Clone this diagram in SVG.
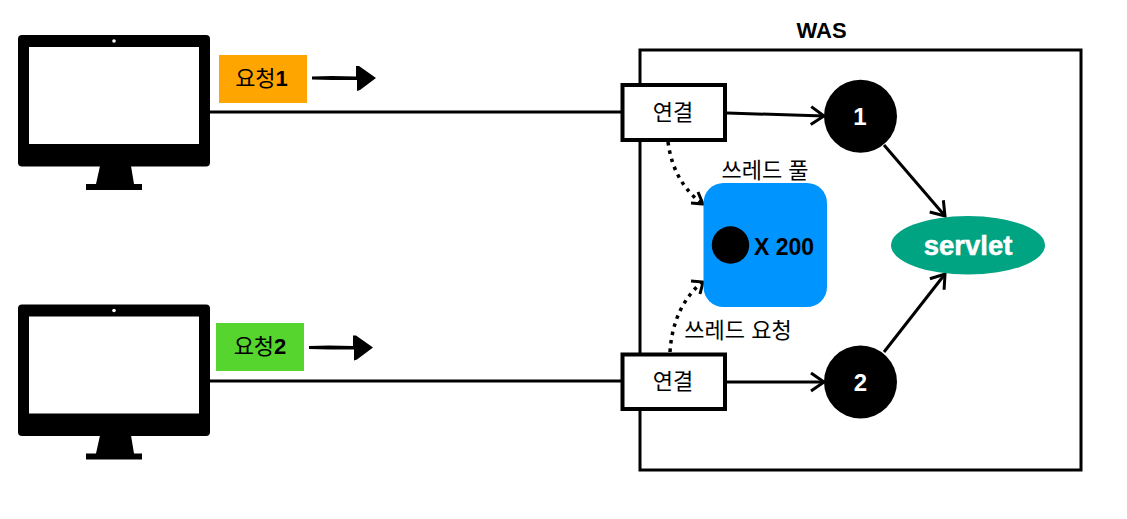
<svg xmlns="http://www.w3.org/2000/svg" width="1127" height="519" viewBox="0 0 1127 519">
<style>
text{font-family:"Liberation Sans","Noto Sans CJK KR",sans-serif;fill:#000}
.b{font-weight:700}
.m{text-anchor:middle}
.w{fill:#fff}
.ln{fill:none;stroke:#000;stroke-width:3}
.dot{fill:none;stroke:#000;stroke-width:3.5;stroke-dasharray:3.5 5}
.box{fill:#fff;stroke:#000;stroke-width:4}
</style>
<defs>
<marker id="a" markerUnits="userSpaceOnUse" markerWidth="20" markerHeight="24" refX="14" refY="10" orient="auto" overflow="visible"><path d="M1 1 14 10 1 19" fill="none" stroke="#000" stroke-width="3"/></marker>
<g id="mon">
<rect x="18" y="35" width="192" height="131.500" rx="4" fill="#000"/>
<rect x="29" y="47" width="170" height="97" fill="#fff"/>
<circle cx="114" cy="41" r="1.800" fill="#fff"/>
<path d="M100 166 H131 L134 184 H142 V190 H86 V184 H96Z" fill="#000"/>
</g>
<path id="hand" d="M0 -1.500 L20 -2 44 -1.500 V-12 L47 -12 64 0 48 12 L45 13 V2 L20 2 0 1.500Z" fill="#000"/>
</defs>
<g id="was"><rect x="640" y="50" width="441" height="420" fill="none" stroke="#000" stroke-width="3"/><text class="b m" x="821.500" y="38" font-size="22">WAS</text></g>
<g id="connectors">
<path class="ln" d="M210 112H622"/>
<path class="ln" d="M210 381H622"/>
<path class="ln" marker-end="url(#a)" d="M727 113 824 116"/>
<path class="ln" marker-end="url(#a)" d="M727 382H824"/>
<path class="ln" marker-end="url(#a)" d="M884 145 945 216"/>
<path class="ln" marker-end="url(#a)" d="M884 352 945 274"/>
<path class="dot" d="M668 142C672 172 685 190 702 204"/>
<path d="M691 203 703 204 698 192" fill="none" stroke="#000" stroke-width="3"/>
<path class="dot" d="M670 352C672 320 684 298 702 282"/>
<path d="M691 281 703 282 700 294" fill="none" stroke="#000" stroke-width="3"/>
</g>
<g id="client1"><use href="#mon"/></g>
<g id="client2"><use href="#mon" y="269.500"/></g>
<g id="req1"><rect x="219" y="55" width="88" height="48" fill="#ffa500"/><text class="m" x="261.500" y="86" font-size="22">요청<tspan class="b">1</tspan></text><use href="#hand" x="312" y="78"/></g>
<g id="req2"><rect x="216" y="323" width="88" height="48" fill="#56d52f"/><text class="m" x="260" y="354" font-size="22">요청<tspan class="b">2</tspan></text><use href="#hand" x="309" y="347.500"/></g>
<g id="conn1"><rect class="box" x="622.500" y="85" width="102.500" height="55"/><text class="m" x="673" y="120" font-size="22">연결</text></g>
<g id="conn2"><rect class="box" x="622.500" y="354.500" width="102.500" height="54.500"/><text class="m" x="673" y="389" font-size="22">연결</text></g>
<g id="pool"><rect x="703.500" y="183" width="123.500" height="124" rx="20" fill="#0094ff"/><circle cx="730.500" cy="245" r="18.700" fill="#000"/><text class="b" x="754" y="255" font-size="23">X 200</text><text class="m" x="765" y="178" font-size="22">쓰레드 풀</text></g>
<text id="reqlabel" class="m" x="738" y="338" font-size="22">쓰레드 요청</text>
<g id="n1"><circle cx="860.500" cy="116.300" r="36.500" fill="#000"/><text class="b m w" x="860" y="125" font-size="24">1</text></g>
<g id="n2"><circle cx="860.500" cy="382" r="36.500" fill="#000"/><text class="b m w" x="860.500" y="391" font-size="24">2</text></g>
<g id="servlet"><ellipse cx="968" cy="245.300" rx="77" ry="29.300" fill="#00a382"/><text class="b m w" x="968" y="255" font-size="27.500" stroke="#fff" stroke-width=".5">servlet</text></g>
</svg>
